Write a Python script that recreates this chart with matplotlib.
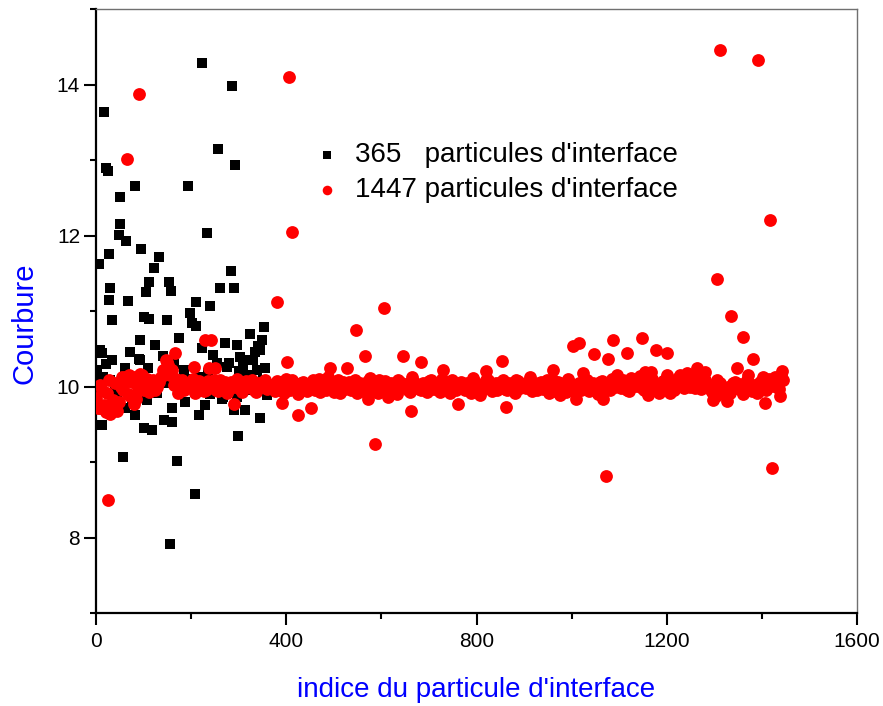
import matplotlib
matplotlib.use("Agg")
import matplotlib.pyplot as plt
from matplotlib.ticker import MultipleLocator

plt.rcParams['font.family'] = ['Liberation Sans', 'DejaVu Sans']

# --- data ------------------------------------------------------------------
# 365 interface particles (black squares): outliers + cluster around 10
black_x = [16, 21, 25, 223, 286, 256, 292, 193, 83, 51, 51, 48, 63, 27, 6, 95,
           132, 121, 233, 283, 260, 290, 30, 28, 67, 111, 105, 153, 158, 211,
           240, 34, 100, 112, 149, 198, 202, 210, 174, 93, 125, 72, 90, 13, 34,
           272, 296, 223, 6, 97, 184, 279, 62, 83, 160, 188, 216, 230, 13, 100,
           118, 142, 160, 290, 298, 56, 170, 209, 155, 354, 324, 341, 313, 345,
           303, 334, 309, 348, 345, 8, 93, 2, 15, 219, 254, 275, 317, 339, 351,
           267, 296, 360, 29, 78, 128, 149, 107, 40, 120, 180, 200, 240, 260,
           330, 350, 365, 60, 110, 45, 190, 320, 280, 140, 165, 245, 300, 330,
           355, 20, 75, 235, 265]
black_y = [13.64, 12.89, 12.86, 14.28, 13.98, 13.14, 12.93, 12.66, 12.66, 12.51,
           12.15, 12.01, 11.93, 11.76, 11.62, 11.82, 11.71, 11.57, 12.03, 11.53,
           11.30, 11.31, 11.30, 11.15, 11.13, 11.38, 11.25, 11.38, 11.27, 11.12,
           11.07, 10.88, 10.92, 10.89, 10.88, 10.98, 10.84, 10.80, 10.64, 10.62,
           10.55, 10.46, 10.37, 10.44, 10.35, 10.57, 10.55, 10.51, 10.13, 10.13,
           10.22, 10.31, 9.71, 9.62, 9.71, 9.80, 9.62, 9.75, 9.49, 9.45, 9.42,
           9.56, 9.53, 9.69, 9.34, 9.06, 9.01, 8.57, 7.92, 10.79, 10.70, 10.53,
           9.69, 9.58, 10.39, 10.46, 10.28, 10.62, 10.48, 10.48, 10.35, 10.22,
           10.13, 10.13, 10.31, 10.26, 10.35, 10.22, 10.09, 9.86, 9.86, 9.89,
           10.09, 9.86, 9.91, 10.05, 9.82, 9.95, 10.05, 9.95, 10.02, 9.90, 10.00,
           9.95, 10.05, 10.00, 10.25, 10.25, 9.82, 10.10, 10.15, 9.95, 10.40,
           10.30, 10.42, 10.20, 10.35, 10.25, 10.30, 9.80, 10.18, 9.84]

# 1447 interface particles (red circles): dense band near 10
red_band_x = [0, 8, 16, 24, 32, 40, 48, 56, 64, 72,
              80, 88, 96, 104, 112, 120, 128, 136, 144, 152,
              160, 168, 176, 184, 192, 200, 208, 216, 224, 232,
              240, 248, 256, 264, 272, 280, 288, 296, 304, 312,
              320, 328, 336, 344, 352, 360,
              4, 12, 20, 28, 36, 44, 52, 60, 68, 76, 84, 92, 100, 108, 116,
              124, 132, 140, 148, 156, 164, 172, 180, 188, 196,
              204, 212, 220, 228, 236, 244, 252, 260, 268, 276,
              284, 292, 300, 308, 316, 324, 332, 340, 348, 356, 364,
              368, 376, 384, 392, 400, 408, 416, 424, 432, 440,
              448, 456, 464, 472, 480, 488, 496, 504, 512, 520,
              528, 536, 544, 552, 560, 568, 576, 584, 592, 600,
              608, 616, 624, 632, 640, 648, 656, 664, 672, 680,
              688, 696, 704, 712, 720, 728, 736, 744, 752, 760,
              768, 776, 784, 792, 800, 808, 816, 824, 832, 840,
              848, 856, 864, 872, 880, 888, 896, 904, 912, 920,
              928, 936, 944, 952, 960, 968, 976, 984, 992, 1000,
              1008, 1016, 1024, 1032, 1040, 1048, 1056, 1064, 1072, 1080,
              1088, 1096, 1104, 1112, 1120, 1128, 1136, 1144, 1152, 1160,
              1168, 1176, 1184, 1192, 1200, 1208, 1216, 1224, 1232, 1240,
              1248, 1256, 1264, 1272, 1280, 1288, 1296, 1304, 1312, 1320,
              1328, 1336, 1344, 1352, 1360, 1368, 1376, 1384, 1392, 1400,
              1408, 1416, 1424, 1432, 1440,
              372, 380, 388, 396, 404, 412, 420, 428, 436, 444,
              452, 460, 468, 476, 484, 492, 500, 508, 516, 524,
              532, 540, 548, 556, 564, 572, 580, 588, 596, 604,
              612, 620, 628, 636, 644, 652, 660, 668, 676, 684,
              692, 700, 708, 716, 724, 732, 740, 748, 756, 764,
              772, 780, 788, 796, 804, 812, 820, 828, 836, 844,
              852, 860, 868, 876, 884, 892, 900, 908, 916, 924,
              932, 940, 948, 956, 964, 972, 980, 988, 996, 1004,
              1012, 1020, 1028, 1036, 1044, 1052, 1060, 1068, 1076, 1084,
              1092, 1100, 1108, 1116, 1124, 1132, 1140, 1148, 1156, 1164,
              1172, 1180, 1188, 1196, 1204, 1212, 1220, 1228, 1236, 1244,
              1252, 1260, 1268, 1276, 1284, 1292, 1300, 1308, 1316, 1324,
              1332, 1340, 1348, 1356, 1364, 1372, 1380, 1388, 1396, 1404,
              1412, 1420, 1428, 1436, 1444]
red_band_y = [9.85, 10.02, 9.76, 9.92, 9.70, 10.05, 9.80, 9.95, 10.10, 9.88,
              10.12, 9.98, 10.15, 10.03, 9.93, 10.08, 10.00, 10.12, 10.18, 10.28,
              10.22, 10.10, 10.02, 9.95, 10.05, 10.00, 9.92, 10.07, 10.02, 9.96,
              10.04, 10.09, 9.94, 10.01, 10.06, 9.97, 10.03, 10.10, 9.95, 10.05,
              9.99, 10.08, 9.93, 10.02, 10.06, 9.97,
              9.72, 9.95, 9.66, 10.08, 9.82, 9.68, 10.00, 10.13, 9.90, 10.06,
              9.84, 10.16, 9.96, 10.10, 10.04,
              9.95, 10.06, 10.22, 10.35, 10.15, 10.02, 9.92, 10.08, 9.98, 10.03,
              10.10, 9.97, 10.02, 9.94, 10.07, 10.00, 9.95, 10.08, 10.02, 9.92,
              10.06, 9.99, 10.02, 9.93, 10.07, 10.01, 9.96, 10.05, 10.00, 10.09, 10.01,
              10.02, 9.94, 10.06, 9.99, 10.10, 9.96, 10.03, 9.90, 10.05, 10.00,
              9.97, 10.08, 10.01, 9.93, 10.04, 10.12, 9.98, 10.02, 9.91, 10.06,
              10.03, 9.96, 10.09, 10.00, 9.94, 10.05, 10.11, 9.99, 9.92, 10.04,
              10.07, 9.98, 10.02, 9.90, 10.06, 10.01, 9.95, 10.13, 10.03, 9.97,
              10.05, 9.93, 10.08, 10.00, 9.96, 10.10, 10.02, 9.91, 10.04, 9.99,
              10.06, 9.95, 10.01, 10.11, 9.97, 9.89, 10.03, 10.08, 9.94, 10.05,
              10.00, 10.09, 9.96, 10.03, 9.92, 10.07, 10.01, 9.98, 10.12, 10.04,
              9.95, 10.06, 10.02, 9.91, 10.08, 9.99, 10.04, 9.96, 10.10, 10.01,
              9.93, 10.05, 10.00, 10.09, 9.97, 10.03, 9.90, 10.07, 10.02, 9.95,
              10.06, 10.12, 9.98, 10.04, 9.94, 10.09, 10.01, 10.14, 9.96, 10.05,
              10.10, 10.02, 9.92, 10.07, 9.99, 10.04, 9.95, 10.11, 10.03, 10.08,
              10.00, 10.13, 10.06, 9.97, 10.09, 10.02, 9.93, 9.88, 10.04, 9.91,
              10.00, 9.95, 10.06, 10.03, 9.90, 10.08, 9.98, 10.02, 9.93, 10.05,
              9.96, 10.10, 10.01, 10.07, 10.15,
              9.98, 10.07, 10.00, 9.92, 10.04, 10.09, 9.97, 10.01, 10.06, 9.94,
              10.03, 9.96, 10.10, 10.02, 9.95, 10.05, 9.93, 10.08, 10.00, 9.97,
              10.06, 10.01, 9.92, 10.04, 9.98, 10.07, 9.95, 10.03, 10.09, 9.97,
              10.00, 10.05, 9.94, 10.08, 9.99, 10.03, 9.93, 10.06, 10.01, 9.96,
              10.02, 10.07, 9.97, 10.04, 9.93, 10.06, 9.99, 10.08, 9.95, 10.02,
              9.98, 10.04, 9.92, 10.06, 10.02, 9.96, 10.09, 9.99, 10.03, 9.96,
              10.06, 9.97, 10.04, 9.95, 10.08, 9.98, 10.03, 10.06, 9.94, 10.01,
              10.05, 9.97, 10.08, 10.00, 9.94, 10.06, 10.01, 9.93, 10.04, 9.97,
              10.02, 9.96, 10.07, 9.94, 10.04, 10.00, 10.06, 9.95, 10.03, 10.10,
              9.99, 10.03, 10.08, 9.96, 10.11, 10.02, 10.06, 9.98, 10.12, 10.00,
              10.05, 9.97, 10.04, 10.09, 10.01, 9.96, 10.06, 10.02, 9.98, 10.10,
              10.07, 9.98, 10.11, 10.03, 10.01, 9.95, 9.90, 10.00, 9.94, 9.97,
              9.92, 10.04, 9.98, 9.95, 10.05, 10.02, 9.94, 10.00, 10.06, 9.98,
              10.03, 10.05, 10.12, 9.97, 10.09]
red_out_x = [25, 91, 65, 406, 412, 381, 606, 546, 565, 401, 391, 424, 453, 586,
             571, 491, 527, 645, 684, 663, 762, 729, 819, 854, 863, 1002, 1016,
             1048, 1077, 1088, 1117, 1148, 1178, 1201, 1073, 1010, 1067, 1312,
             1392, 1418, 1306, 1336, 1361, 1382, 1348, 1371, 1422, 1407, 1438,
             1442, 230, 242, 166, 206, 237, 250, 80, 290, 149, 8, 29, 55, 69,
             101, 614, 961, 975, 1024, 1095, 1154, 1167, 1200, 1297, 1326,
             1161, 1207, 1264, 1280, 1228, 1242, 1305, 1402, 1424, 1390]
red_out_y = [8.50, 13.87, 13.01, 14.10, 12.05, 11.12, 11.04, 10.75, 10.41, 10.32,
             9.78, 9.62, 9.72, 9.24, 9.84, 10.24, 10.24, 10.40, 10.32, 9.68, 9.77,
             10.22, 10.21, 10.34, 9.73, 10.54, 10.57, 10.43, 10.37, 10.61, 10.45,
             10.64, 10.49, 10.44, 8.82, 9.84, 9.83, 14.46, 14.33, 12.21, 11.42,
             10.94, 10.65, 10.36, 10.24, 10.15, 8.92, 9.78, 9.87, 10.20, 10.62,
             10.61, 10.44, 10.26, 10.25, 10.24, 9.77, 9.77, 10.32, 9.71, 9.64,
             10.12, 10.15, 10.08, 9.86, 10.22, 9.89, 10.18, 10.15, 10.19, 10.19,
             10.15, 9.82, 9.81, 9.89, 9.91, 10.24, 10.19, 10.15, 10.18, 10.09,
             10.13, 10.09, 9.91]

x_ticks = [0, 400, 800, 1200, 1600]
y_ticks = [8, 10, 12, 14]
label_black = "365   particules d'interface"
label_red = "1447 particules d'interface"

# --- figure ------------------------------------------------------------------
fig = plt.figure(figsize=(8.83, 7.06), dpi=100)
ax = fig.add_axes([96 / 883, 1 - 613 / 706, 761 / 883, 604 / 706])

ax.scatter(black_x, black_y, marker='s', s=60, c='black', linewidths=0,
           label=label_black, zorder=2)
ax.scatter(red_band_x + red_out_x, red_band_y + red_out_y, marker='o', s=85,
           c='red', linewidths=0, label=label_red, zorder=3)

ax.set_xlim(0, 1600)
ax.set_ylim(7, 15)
ax.set_xticks(x_ticks)
ax.set_yticks(y_ticks)
ax.xaxis.set_minor_locator(MultipleLocator(200))
ax.yaxis.set_minor_locator(MultipleLocator(1))
ax.tick_params(which='major', direction='out', length=8.5, width=1.5,
               labelsize=15, pad=3)
ax.tick_params(axis='x', which='major', pad=5)
ax.tick_params(which='minor', direction='out', length=4.5, width=1.5)

for side in ('left', 'bottom'):
    ax.spines[side].set_linewidth(1.6)
    ax.spines[side].set_color('black')
for side in ('top', 'right'):
    ax.spines[side].set_linewidth(1.0)
    ax.spines[side].set_color('#707070')

ax.set_xlabel("indice du particule d'interface", color='blue', fontsize=20)
ax.set_ylabel("Courbure", color='blue', fontsize=21)
ax.xaxis.set_label_coords(0.5, -0.106)
ax.yaxis.set_label_coords(-0.075, 0.48)

ax.legend(loc='upper left', bbox_to_anchor=(313 / 883, 1 - 142 / 706),
          bbox_transform=fig.transFigure, frameon=False, fontsize=20,
          handlelength=1.0, handletextpad=0.5, borderpad=0, borderaxespad=0,
          labelspacing=0.34, markerscale=0.75, scatterpoints=1)

fig.savefig("out.png", dpi=100)
